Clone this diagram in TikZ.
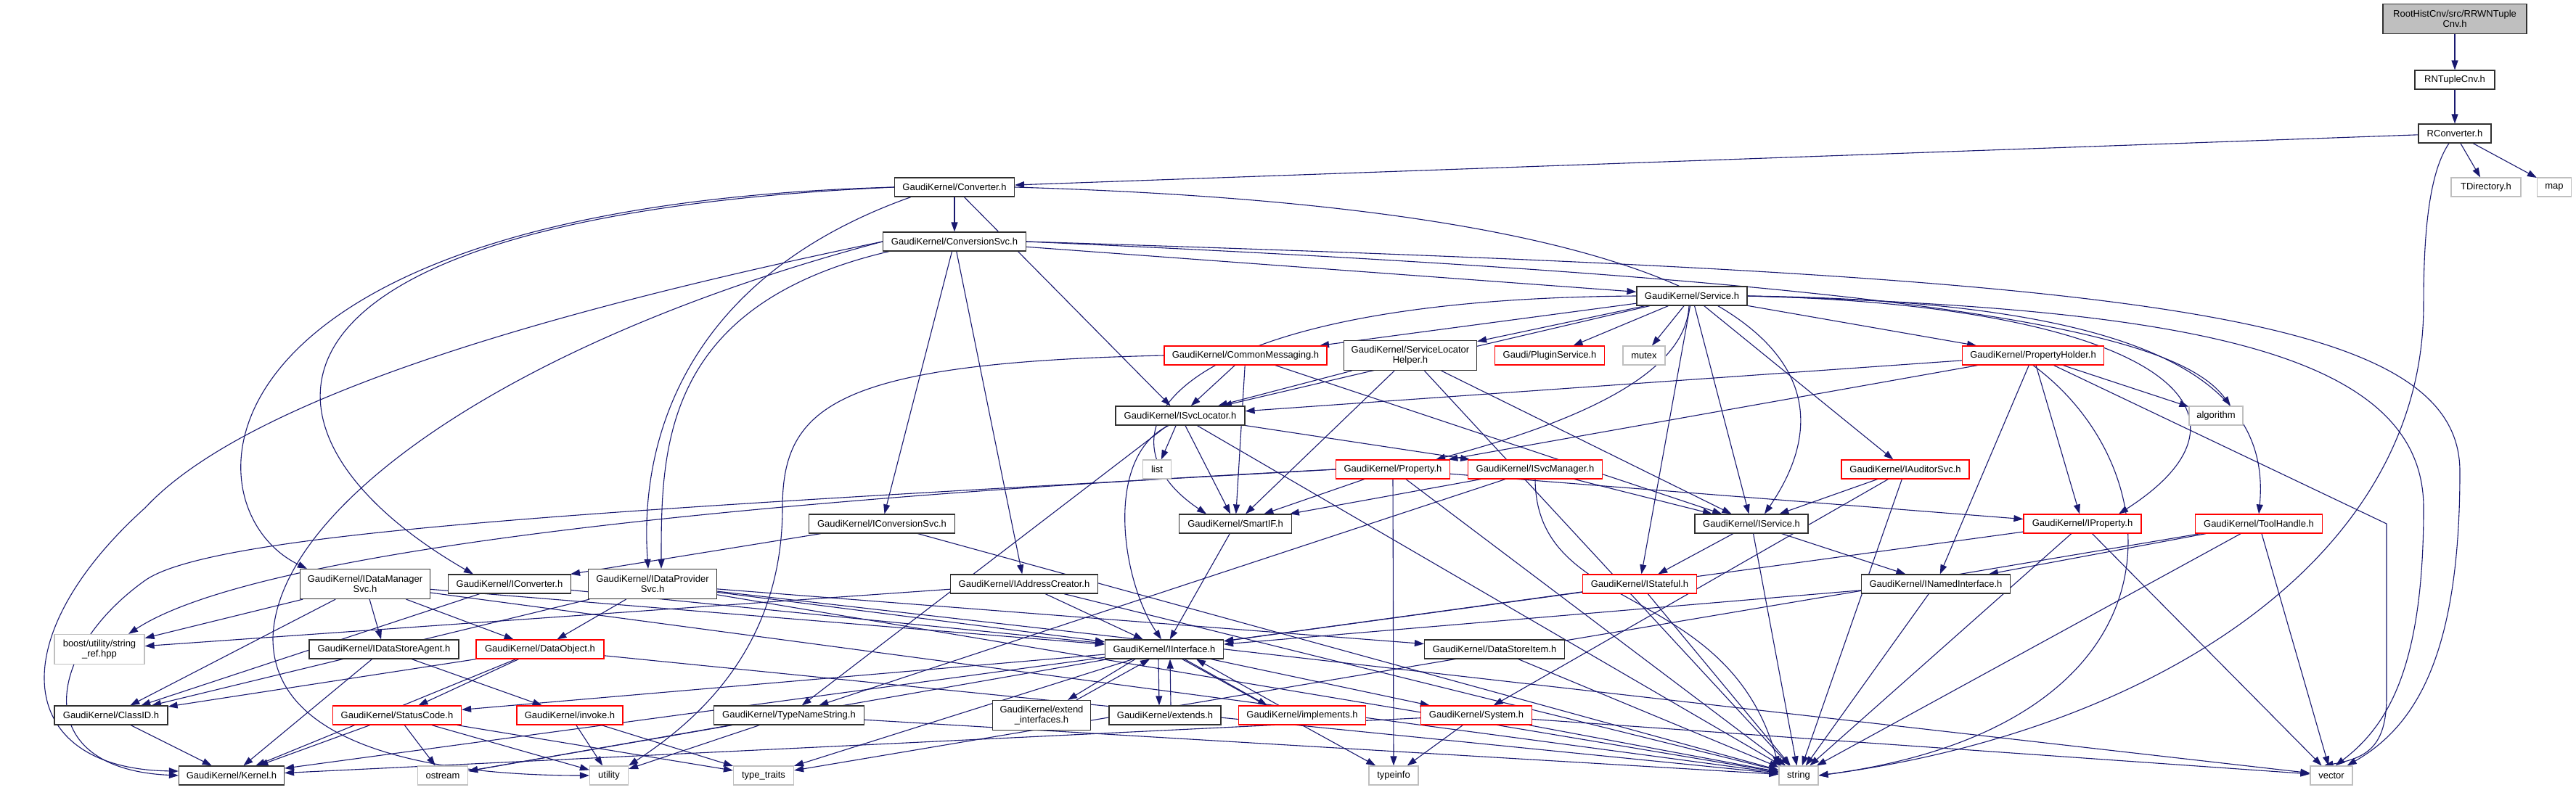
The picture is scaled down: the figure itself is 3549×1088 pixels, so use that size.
\documentclass[tikz,border=0pt]{standalone}
\usepackage{fontspec}
\setmainfont{Liberation Sans}
\usetikzlibrary{arrows.meta}
\pgfdeclarelayer{bg}
\pgfdeclarelayer{edges}
\pgfsetlayers{bg,edges,main}
\definecolor{edgecol}{HTML}{191970}
\definecolor{grayb}{HTML}{BFBFBF}
\definecolor{redb}{HTML}{FF0000}
\definecolor{darkb}{HTML}{303030}
\newcommand\mknode[6]{\node[#5, minimum width=#4*0.5pt] (#1) at (#2,#3) {#6};}
\begin{document}
\begin{tikzpicture}[x=0.5pt,y=-0.5pt,
  nd/.style={draw=darkb, fill=white, line width=0.6pt, inner sep=0pt, minimum height=13pt, align=center, font=\fontsize{6.5pt}{7pt}\selectfont},
  rd/.style={nd, draw=redb},
  gr/.style={nd, draw=grayb},
  tall/.style={minimum height=20.5pt},
  e/.style={draw=edgecol, line width=0.55pt, -{Triangle[length=6.5pt,width=4.5pt]}}
]
\useasboundingbox (0,0) rectangle (3549,1088);
\begin{pgfonlayer}{bg}
\fill[white] (0,0) rectangle (3549,1088);
\end{pgfonlayer}
% nodes
\mknode{root}{3382}{26}{198}{nd,tall,fill=grayb}{RootHistCnv/src/RRWNTuple\\Cnv.h}
\mknode{rntuple}{3382}{110}{110}{nd}{RNTupleCnv.h}
\mknode{rconv}{3382}{184}{100}{nd}{RConverter.h}
\mknode{conv}{1315}{258}{165}{nd}{GaudiKernel/Converter.h}
\mknode{tdir}{3425}{258}{96}{gr}{TDirectory.h}
\mknode{map}{3519}{258}{47}{gr}{map}
\mknode{convsvc}{1315}{333}{197}{nd}{GaudiKernel/ConversionSvc.h}
\mknode{service}{2331}{408}{152}{nd}{GaudiKernel/Service.h}
\mknode{commsg}{1716}{490}{224}{rd}{GaudiKernel/CommonMessaging.h}
\mknode{slh}{1943}{490}{183}{nd,tall}{GaudiKernel/ServiceLocator\\Helper.h}
\mknode{plugin}{2135}{490}{151}{rd}{Gaudi/PluginService.h}
\mknode{mutex}{2265}{490}{58}{gr}{mutex}
\mknode{propholder}{2801}{490}{195}{rd}{GaudiKernel/PropertyHolder.h}
\mknode{isvcloc}{1626}{573}{178}{nd}{GaudiKernel/ISvcLocator.h}
\mknode{algorithm}{3053}{573}{74}{gr}{algorithm}
\mknode{list}{1594}{647}{39}{gr}{list}
\mknode{property}{1919}{647}{157}{rd}{GaudiKernel/Property.h}
\mknode{isvcmgr}{2115}{647}{185}{rd}{GaudiKernel/ISvcManager.h}
\mknode{iauditor}{2625}{647}{176}{rd}{GaudiKernel/IAuditorSvc.h}
\mknode{iconvsvc}{1215}{722}{201}{nd}{GaudiKernel/IConversionSvc.h}
\mknode{smartif}{1702}{722}{155}{nd}{GaudiKernel/SmartIF.h}
\mknode{iservice}{2413}{722}{156}{nd}{GaudiKernel/IService.h}
\mknode{iproperty}{2869}{722}{162}{rd}{GaudiKernel/IProperty.h}
\mknode{toolhandle}{3112}{722}{175}{rd}{GaudiKernel/ToolHandle.h}
\mknode{idms}{503}{805}{179}{nd,tall}{GaudiKernel/IDataManager\\Svc.h}
\mknode{iconverter}{702}{805}{169}{nd}{GaudiKernel/IConverter.h}
\mknode{idps}{899}{805}{177}{nd,tall}{GaudiKernel/IDataProvider\\Svc.h}
\mknode{iaddr}{1411}{805}{203}{nd}{GaudiKernel/IAddressCreator.h}
\mknode{istateful}{2259}{805}{157}{rd}{GaudiKernel/IStateful.h}
\mknode{inamed}{2667}{805}{205}{nd}{GaudiKernel/INamedInterface.h}
\mknode{boost}{137}{895}{124}{gr,tall}{boost/utility/string\\\_ref.hpp}
\mknode{istore}{529}{895}{206}{nd}{GaudiKernel/IDataStoreAgent.h}
\mknode{dataobject}{744}{895}{176}{rd}{GaudiKernel/DataObject.h}
\mknode{iinterface}{1604}{895}{163}{nd}{GaudiKernel/IInterface.h}
\mknode{dsi}{2059}{895}{193}{nd}{GaudiKernel/DataStoreItem.h}
\mknode{classid}{153}{986}{156}{nd}{GaudiKernel/ClassID.h}
\mknode{statuscode}{547}{986}{177}{rd}{GaudiKernel/StatusCode.h}
\mknode{invoke}{785}{986}{146}{rd}{GaudiKernel/invoke.h}
\mknode{tns}{1087}{986}{207}{nd}{GaudiKernel/TypeNameString.h}
\mknode{extint}{1435}{986}{135}{nd,tall}{GaudiKernel/extend\\\_interfaces.h}
\mknode{extends}{1605}{986}{154}{nd}{GaudiKernel/extends.h}
\mknode{implements}{1794}{986}{175}{rd}{GaudiKernel/implements.h}
\mknode{system}{2034}{986}{153}{rd}{GaudiKernel/System.h}
\mknode{kernel}{319}{1069}{145}{nd}{GaudiKernel/Kernel.h}
\mknode{ostream}{610}{1069}{69}{gr}{ostream}
\mknode{utility}{839}{1069}{53}{gr}{utility}
\mknode{typetraits}{1052}{1069}{83}{gr}{type\_traits}
\mknode{typeinfo}{1920}{1069}{68}{gr}{typeinfo}
\mknode{string}{2478}{1069}{54}{gr}{string}
\mknode{vector}{3212}{1069}{58}{gr}{vector}
% edges
\begin{pgfonlayer}{edges}
\draw[e] (root) -- (rntuple);
\draw[e] (rntuple) -- (rconv);
\draw[e] (rconv) -- (conv);
\draw[e] (rconv) -- (tdir);
\draw[e] (rconv) -- (map);
\draw[e] ([xshift=-4pt]rconv.south) .. controls (3345,240) and (3339,330) .. (3339,420) .. controls (3339,780) and (2950,1010) .. (string.east);
% Converter.h
\draw[e] (conv) -- (convsvc);
\draw[e] (conv) -- (isvcloc);
\draw[e] (conv.east) .. controls (2480,290) and (2560,520) .. ([xshift=9pt]iservice.north);
\draw[e] ([xshift=-30pt]conv.south) .. controls (950,380) and (880,600) .. ([xshift=-3pt]idps.north);
\draw[e] (conv.west) .. controls (250,285) and (250,700) .. ([xshift=5pt]idms.north west);
\draw[e] (conv.west) .. controls (300,300) and (320,600) .. ([xshift=-25pt]iconverter.north);
% ConversionSvc.h
\draw[e] (convsvc) -- (service);
\draw[e] (convsvc) -- (iconvsvc);
\draw[e] (convsvc) -- (iaddr);
\draw[e] ([xshift=-45pt]convsvc.south) .. controls (911,420) and (911,620) .. ([xshift=6pt]idps.north);
\draw[e] (convsvc.west) .. controls (700,440) and (330,560) .. (200,700) .. controls (0,880) and (20,1060) .. ([yshift=3pt]kernel.west);
\draw[e] (convsvc.west) .. controls (700,470) and (380,700) .. (376,880) .. controls (376,1030) and (600,1069) .. (utility.west);
\draw[e] (convsvc.east) .. controls (2900,380) and (3389,420) .. (3389,650) .. controls (3389,900) and (3330,1000) .. ([xshift=-4pt]vector.north east);
\draw[e] (convsvc.east) .. controls (2700,390) and (3000,460) .. ([xshift=10pt]algorithm.north);
% Service.h
\draw[e] (service) -- (commsg);
\draw[e] (service) -- (slh);
\draw[e] (service) -- (plugin);
\draw[e] (service) -- (mutex);
\draw[e] (service) -- (propholder);
\draw[e] (service) -- (isvcloc);
\draw[e] (service.west) .. controls (1600,412) and (1500,600) .. ([xshift=-20pt]smartif.north);
\draw[e] (service) -- (iservice);
\draw[e] (service) -- (istateful);
\draw[e] (service) -- (iauditor);
\draw[e] ([xshift=-2pt]service.south) .. controls (2322,520) and (2160,585) .. ([xshift=-10pt]property.north east);
\draw[e] (service.east) .. controls (2950,420) and (3150,560) .. ([xshift=25pt]iproperty.north);
\draw[e] (service.east) .. controls (2950,415) and (3130,520) .. (toolhandle.north);
\draw[e] (service.east) .. controls (3000,425) and (3339,480) .. (3339,700) .. controls (3339,920) and (3290,1000) .. ([xshift=-12pt]vector.north east);
% CommonMessaging.h
\draw[e] (commsg) -- (isvcloc);
\draw[e] (commsg) -- (smartif);
\draw[e] (commsg) -- (iservice);
\draw[e] (commsg.west) .. controls (1150,500) and (1078,560) .. (1078,700) .. controls (1078,900) and (950,1000) .. (utility.north east);
% ServiceLocatorHelper.h
\draw[e] (slh) -- (isvcloc);
\draw[e] (slh) -- (smartif);
\draw[e] (slh) -- (iservice);
\draw[e] (slh) -- (string);
% PropertyHolder.h
\draw[e] (propholder) -- (isvcloc);
\draw[e] (propholder) -- (property);
\draw[e] (propholder) -- (iproperty);
\draw[e] (propholder) -- (inamed);
\draw[e] (propholder.south) .. controls (3000,650) and (3020,1000) .. (string.east);
\draw[e] (propholder) -- (3288,722) -- (3288,960) .. controls (3288,1030) and (3260,1045) .. ([xshift=-20pt]vector.north east);
\draw[e] (propholder) -- (algorithm);
% ISvcLocator.h
\draw[e] (isvcloc) -- (list);
\draw[e] (isvcloc) -- (smartif);
\draw[e] ([xshift=-8pt]isvcloc.south) .. controls (1520,630) and (1545,800) .. ([xshift=-2pt]iinterface.north);
\draw[e] (isvcloc) -- (tns);
\draw[e] (isvcloc) -- (string);
\draw[e] (isvcloc) -- (isvcmgr);
% Property.h
\draw[e] (property.west) .. controls (1000,690) and (350,760) .. ([xshift=20pt]boost.north);
\draw[e] (property.west) .. controls (900,700) and (300,730) .. (200,800) .. controls (60,900) and (40,1060) .. (kernel.west);
\draw[e] (property) -- (iproperty);
\draw[e] (property) -- (smartif);
\draw[e] (property.south) -- (typeinfo.north);
\draw[e] (property) -- (string);
% ISvcManager.h
\draw[e] (isvcmgr) -- (smartif);
\draw[e] (isvcmgr) -- (iservice);
\draw[e] (isvcmgr) -- (tns);
\draw[e] (isvcmgr.south) .. controls (2116,850) and (2380,800) .. (string.north west);
% IAuditorSvc.h
\draw[e] (iauditor) -- (iservice);
\draw[e] (iauditor) -- (system);
\draw[e] (iauditor) -- (string);
% row 9
\draw[e] (iconvsvc) -- (iconverter);
\draw[e] (iconvsvc) -- (string);
\draw[e] (smartif) -- (iinterface);
\draw[e] (iservice) -- (istateful);
\draw[e] (iservice) -- (inamed);
\draw[e] (iservice) -- (string);
\draw[e] (iproperty) -- (iinterface);
\draw[e] (iproperty) -- (string);
\draw[e] (iproperty) -- (vector);
\draw[e] (toolhandle) -- (inamed);
\draw[e] (toolhandle) -- (typetraits);
\draw[e] (toolhandle) -- (string);
\draw[e] (toolhandle) -- (vector);
% row 10
\draw[e] (idms) -- (boost);
\draw[e] (idms) -- (classid);
\draw[e] (idms) -- (istore);
\draw[e] (idms) -- (dataobject);
\draw[e] (idms) -- (iinterface);
\draw[e] (idms) -- (string);
\draw[e] (iconverter) -- (classid);
\draw[e] (iconverter) -- (iinterface);
\draw[e] (idps) -- (classid);
\draw[e] (idps) -- (dataobject);
\draw[e] (idps) -- (iinterface);
\draw[e] (idps) -- (dsi);
\draw[e] (idps) -- (string);
\draw[e] (idps) -- (vector);
\draw[e] (iaddr) -- (boost);
\draw[e] (iaddr) -- (iinterface);
\draw[e] (iaddr) -- (string);
\draw[e] (istateful) -- (iinterface);
\draw[e] (istateful) -- (string);
\draw[e] (inamed) -- (iinterface);
\draw[e] (inamed) -- (string);
% row 11
\draw[e] (dataobject) -- (classid);
\draw[e] (dataobject) -- (statuscode);
\draw[e] (dataobject) -- (kernel);
\draw[e] (dataobject) -- (string);
\draw[e] (istore) -- (kernel);
\draw[e] (istore) -- (invoke);
\draw[e] (iinterface) -- (kernel);
\draw[e] (iinterface) -- (statuscode);
\draw[e] (iinterface) -- (ostream);
\draw[e] (iinterface) -- (system);
\draw[e] (iinterface) -- (typetraits);
\draw[e] (iinterface) -- (typeinfo);
\draw[e] ([xshift=-20pt]iinterface.south) -- ([xshift=18pt]extint.north);
\draw[e] ([xshift=24pt]extint.north) -- ([xshift=-10pt]iinterface.south);
\draw[e] ([xshift=-4pt]iinterface.south) -- ([xshift=-4pt]extends.north);
\draw[e] ([xshift=4pt]extends.north) -- ([xshift=4pt]iinterface.south);
\draw[e] ([xshift=14pt]iinterface.south) -- ([xshift=-24pt]implements.north);
\draw[e] ([xshift=-16pt]implements.north) -- ([xshift=22pt]iinterface.south);
\draw[e] (dsi) -- (string);
% row 12
\draw[e] (statuscode) -- (kernel);
\draw[e] (statuscode) -- (ostream);
\draw[e] (statuscode) -- (utility);
\draw[e] (statuscode) -- (typetraits);
\draw[e] (invoke) -- (utility);
\draw[e] (invoke) -- (typetraits);
\draw[e] (classid) -- (kernel);
\draw[e] (tns) -- (ostream);
\draw[e] (tns) -- (utility);
\draw[e] (tns) -- (string);
\draw[e] (system) -- (kernel);
\draw[e] (system) -- (typeinfo);
\draw[e] (system) -- (string);
\draw[e] (system) -- (vector);
\end{pgfonlayer}
\end{tikzpicture}
\end{document}
